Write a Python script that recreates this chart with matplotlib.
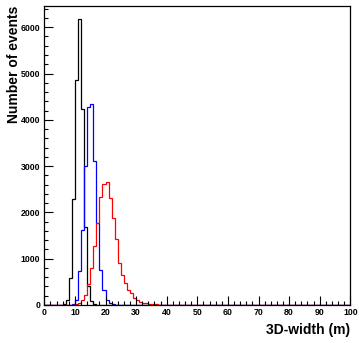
import numpy as np
import matplotlib.pyplot as plt
from matplotlib.ticker import MultipleLocator

# 1 m bins from 0 to 100, counts
edges = np.arange(0, 101, 1)

black_start = 5
black_counts = [5, 15, 115, 590, 2280, 4850, 6180, 4230, 1690, 420, 90, 20, 5]

blue_start = 8
blue_counts = [5, 20, 100, 735, 1620, 3010, 4270, 4350, 3110, 1765, 756, 324,
               110, 40, 18, 8, 4]

red_start = 9
red_counts = [5, 15, 40, 100, 210, 450, 790, 1270, 1770, 2326, 2613, 2650,
              2318, 1880, 1419, 900, 650, 470, 325, 250, 150, 110, 75, 50,
              35, 25, 20, 15, 10, 8, 5, 4, 3, 2]


def full(start, counts):
    h = np.zeros(len(edges) - 1)
    h[start:start + len(counts)] = counts
    return h


plt.rcParams['font.family'] = ['Liberation Sans', 'DejaVu Sans']
plt.rcParams['font.weight'] = 'bold'

fig = plt.figure(figsize=(3.59, 3.43), dpi=100)
ax = fig.add_axes([44.3 / 359, 38 / 343, (350.3 - 44.3) / 359, (305 - 5.5) / 343])

ax.stairs(full(black_start, black_counts), edges, color='black', lw=0.9)
ax.stairs(full(blue_start, blue_counts), edges, color='blue', lw=0.9)
ax.stairs(full(red_start, red_counts), edges, color='red', lw=0.9)

ax.set_xlim(0, 100)
ax.set_ylim(0, 6469)
ax.xaxis.set_major_locator(MultipleLocator(10))
ax.xaxis.set_minor_locator(MultipleLocator(2))
ax.yaxis.set_major_locator(MultipleLocator(1000))
ax.yaxis.set_minor_locator(MultipleLocator(200))
ax.tick_params(which='both', direction='in', top=False, right=False,
               width=0.8, labelsize=6.3)
ax.tick_params(which='major', length=6.5)
ax.tick_params(which='minor', length=3.2)
ax.tick_params(axis='x', pad=2.5)
ax.tick_params(axis='y', pad=2.8)
for s in ax.spines.values():
    s.set_linewidth(0.9)

fig.text(350 / 359, 1 - 330 / 343, '3D-width (m)', ha='right', va='center',
         fontsize=10, weight='bold')
fig.text(14 / 359, 1 - 5.5 / 343, 'Number of events', rotation=90,
         ha='center', va='top', fontsize=10, weight='bold')

plt.savefig('out.png', dpi=100)
